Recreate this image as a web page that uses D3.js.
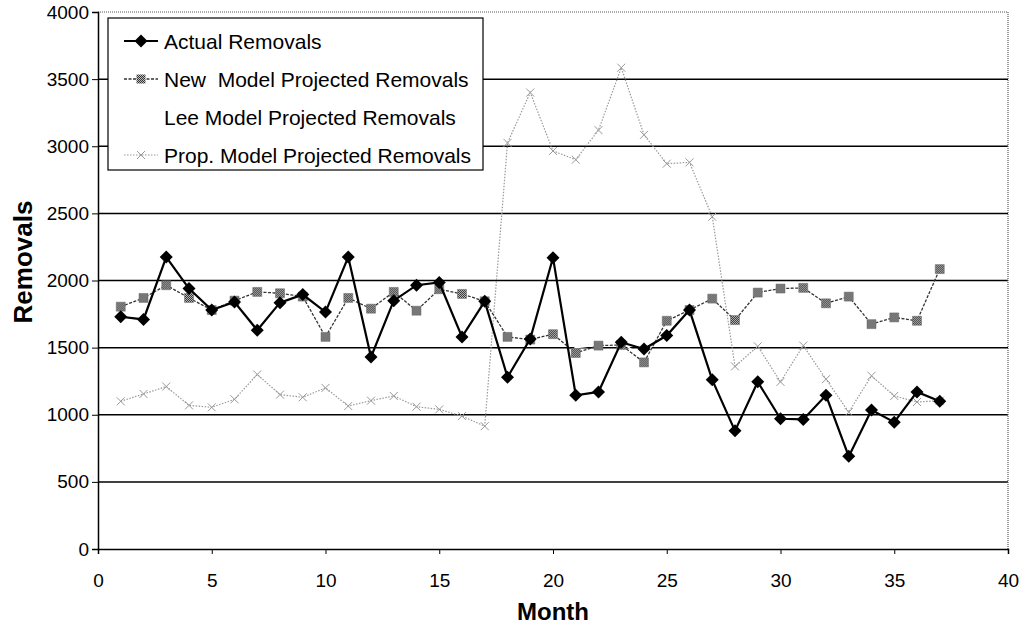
<!DOCTYPE html>
<meta charset="utf-8">
<style>
body { margin: 0; background: #fff; }
text { font-family: "Liberation Sans", Arial, sans-serif; }
.grid line { stroke: #000; stroke-width: 1.5; }
.axis path, .axis line { stroke: #000; }
.axis text { font-size: 19px; fill: #000; font-family: "Liberation Sans", Arial, sans-serif; }
.legend text { white-space: pre; }
</style>
<div id="chart"></div>
<script src="https://cdn.jsdelivr.net/npm/d3@7"></script>
<script>

// data
var months = d3.range(1, 38);
var actual = [1730, 1710, 2175, 1940, 1780, 1840, 1630, 1835, 1895, 1765, 2175, 1430, 1850,
  1965, 1985, 1580, 1845, 1280, 1565, 2170, 1145, 1170, 1540, 1490, 1590, 1780,
  1260, 880, 1245, 970, 965, 1145, 690, 1035, 945, 1170, 1100];
var newModel = [1805, 1870, 1965, 1870, 1780, 1850, 1915, 1905, 1880, 1580, 1870, 1790, 1915,
  1775, 1935, 1900, 1845, 1580, 1560, 1600, 1460, 1515, 1520, 1390, 1700, 1780,
  1865, 1705, 1910, 1940, 1945, 1830, 1880, 1675, 1725, 1700, 2085];
var leeModel = [1780, 1850, 1900, 1860, 1790, 1880, 1860, 1870, 1860, 1700, 1880, 1820, 1880,
  1800, 1900, 1880, 1840, 1600, 1570, 1640, 1500, 1520, 1540, 1420, 1680, 1790,
  1850, 1720, 1880, 1920, 1900, 1820, 1870, 1700, 1720, 1710, 1900];
var propModel = [1100, 1155, 1210, 1070, 1055, 1115, 1300, 1150, 1130, 1200, 1065, 1105, 1140,
  1060, 1040, 990, 915, 3025, 3400, 2965, 2900, 3120, 3585, 3085, 2870, 2880,
  2475, 1360, 1510, 1245, 1515, 1265, 1020, 1290, 1140, 1095, 1105];
var seriesNames = ["Actual Removals", "New  Model Projected Removals",
  "Lee Model Projected Removals", "Prop. Model Projected Removals"];
var xTicks = d3.range(0, 41, 5);
var yTicks = d3.range(0, 4001, 500);

var width = 1023, height = 628;
var margin = {top: 12, right: 15, bottom: 79, left: 98};

var svg = d3.select("#chart").append("svg")
    .attr("width", width)
    .attr("height", height);

var x = d3.scaleLinear().domain([0, 40]).range([margin.left, width - margin.right]);
var y = d3.scaleLinear().domain([0, 4000]).range([height - margin.bottom, margin.top]);

// gridlines
svg.append("g").attr("class", "grid")
  .selectAll("line")
  .data(yTicks.filter(function(d) { return d > 0 && d < 4000; }))
  .enter().append("line")
    .attr("x1", x(0)).attr("x2", x(40))
    .attr("y1", function(d) { return y(d); })
    .attr("y2", function(d) { return y(d); });

// dotted frame top/right
svg.append("path")
    .attr("d", "M" + x(0) + "," + y(4000) + "H" + x(40) + "V" + y(0))
    .attr("fill", "none")
    .attr("stroke", "#555")
    .attr("stroke-width", 1.2)
    .attr("stroke-dasharray", "1,1");

svg.append("g").attr("class", "axis")
    .attr("transform", "translate(0," + y(0) + ")")
    .call(d3.axisBottom(x).tickValues(xTicks).tickFormat(d3.format("d")).tickSize(5).tickPadding(20))
    .select(".domain").attr("stroke-width", 1.5);

svg.append("g").attr("class", "axis")
    .attr("transform", "translate(" + x(0) + ",0)")
    .call(d3.axisLeft(y).tickValues(yTicks).tickFormat(d3.format("d")).tickSize(6).tickPadding(3))
    .select(".domain").attr("stroke-width", 1.5);

svg.append("text")
    .attr("x", 553).attr("y", 620)
    .attr("text-anchor", "middle")
    .attr("font-size", 24).attr("font-weight", "bold")
    .text("Month");

svg.append("text")
    .attr("transform", "translate(32,262) rotate(-90)")
    .attr("text-anchor", "middle")
    .attr("font-size", 26).attr("font-weight", "bold")
    .text("Removals");

function pts(vals) {
  return months.map(function(m, i) { return [m, vals[i]]; });
}
var line = d3.line()
    .x(function(d) { return x(d[0]); })
    .y(function(d) { return y(d[1]); });

// checkered fill for the squares
var defs = svg.append("defs");
var pat = defs.append("pattern").attr("id", "checker")
    .attr("width", 2).attr("height", 2).attr("patternUnits", "userSpaceOnUse");
pat.append("rect").attr("width", 2).attr("height", 2).attr("fill", "#bbb");
pat.append("rect").attr("width", 1).attr("height", 1).attr("fill", "#333");
pat.append("rect").attr("x", 1).attr("y", 1).attr("width", 1).attr("height", 1).attr("fill", "#333");

var diamondPath = "M0,-6.5L6.5,0L0,6.5L-6.5,0Z";
var squarePath = "M-4.5,-4.5H4.5V4.5H-4.5Z";
var crossPath = "M-4,-4L4,4M-4,4L4,-4";

// Lee model: white line, sits underneath
svg.append("path").datum(pts(leeModel))
    .attr("d", line).attr("fill", "none")
    .attr("stroke", "#fff").attr("stroke-width", 1.5);

// Prop model
svg.append("path").datum(pts(propModel))
    .attr("d", line).attr("fill", "none")
    .attr("stroke", "#999").attr("stroke-width", 1.2).attr("stroke-dasharray", "1.5,1.5");
svg.append("g").selectAll("path")
    .data(pts(propModel)).enter().append("path")
    .attr("transform", function(d) { return "translate(" + x(d[0]) + "," + y(d[1]) + ")"; })
    .attr("d", crossPath)
    .attr("stroke", "#999").attr("stroke-width", 1).attr("fill", "none");

// New model
svg.append("path").datum(pts(newModel))
    .attr("d", line).attr("fill", "none")
    .attr("stroke", "#333").attr("stroke-width", 1.3).attr("stroke-dasharray", "3,1.5");
svg.append("g").selectAll("path")
    .data(pts(newModel)).enter().append("path")
    .attr("transform", function(d) { return "translate(" + x(d[0]) + "," + y(d[1]) + ")"; })
    .attr("d", squarePath)
    .attr("fill", "url(#checker)").attr("stroke", "#666").attr("stroke-width", 0.5);

// Actual
svg.append("path").datum(pts(actual))
    .attr("d", line).attr("fill", "none")
    .attr("stroke", "#000").attr("stroke-width", 2.2);
svg.append("g").selectAll("path")
    .data(pts(actual)).enter().append("path")
    .attr("transform", function(d) { return "translate(" + x(d[0]) + "," + y(d[1]) + ")"; })
    .attr("d", diamondPath)
    .attr("fill", "#000");

// legend
var lg = svg.append("g").attr("class", "legend").attr("transform", "translate(108,18)");
lg.append("rect").attr("width", 375).attr("height", 152)
    .attr("fill", "#fff").attr("stroke", "#000").attr("stroke-width", 1.2);
var ly = d3.scalePoint().domain(seriesNames).range([23, 137]);
seriesNames.forEach(function(name, i) {
  var g = lg.append("g").attr("transform", "translate(0," + ly(name) + ")");
  if (i === 0) {
    g.append("line").attr("x1", 16).attr("x2", 50).attr("stroke", "#000").attr("stroke-width", 2);
    g.append("path").attr("transform", "translate(33,0)").attr("d", diamondPath).attr("fill", "#000");
  } else if (i === 1) {
    g.append("line").attr("x1", 16).attr("x2", 50).attr("stroke", "#333").attr("stroke-width", 1.3).attr("stroke-dasharray", "3,1.5");
    g.append("path").attr("transform", "translate(33,0)").attr("d", squarePath).attr("fill", "url(#checker)");
  } else if (i === 3) {
    g.append("line").attr("x1", 16).attr("x2", 50).attr("stroke", "#999").attr("stroke-width", 1.2).attr("stroke-dasharray", "1.5,1.5");
    g.append("path").attr("transform", "translate(33,0)").attr("d", crossPath).attr("stroke", "#999").attr("fill", "none");
  }
  g.append("text").attr("x", 56).attr("y", 7.5)
      .attr("font-size", 21).text(name);
});

</script>
